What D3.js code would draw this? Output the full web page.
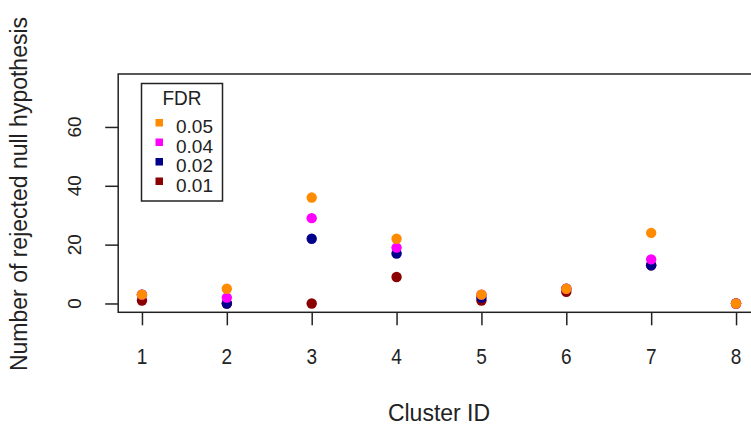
<!DOCTYPE html>
<html>
<head>
<meta charset="utf-8">
<script src="https://cdn.jsdelivr.net/npm/d3@7"></script>
<style>
  body { margin: 0; background: #fff; }
  text { font-family: "Liberation Sans", Arial, sans-serif; fill: #222; }
</style>
</head>
<body>
<script>

// data
var clusters = [1, 2, 3, 4, 5, 6, 7, 8];
var fdr05 = [3, 5, 36, 22, 3, 5, 24, 0];
var fdr04 = [3, 2, 29, 19, 3, 5, 15, 0];
var fdr02 = [3, 0, 22, 17, 2, 5, 13, 0];
var fdr01 = [1, 0, 0, 9, 1, 4, 13, 0];
var fdrLabels = ["0.05", "0.04", "0.02", "0.01"];
var fdrColors = ["#ff8c00", "#ff00ff", "#00008b", "#8b0000"];
var yTicks = [0, 20, 40, 60];

var width = 751, height = 426;

var x = d3.scaleLinear().domain([0.72, 8.28]).range([118.2, 759.8]);
var y = d3.scaleLinear().domain([-3, 78]).range([312.3, 74]);

var svg = d3.select("body").append("svg")
    .attr("width", width)
    .attr("height", height);

// box (right side runs off the canvas like in the original)
svg.append("rect")
    .attr("x", x(0.72))
    .attr("y", y(78))
    .attr("width", x(8.28) - x(0.72))
    .attr("height", y(-3) - y(78))
    .attr("fill", "none")
    .attr("stroke", "#222")
    .attr("stroke-width", 1.5);

// axes
var yAxis = d3.axisLeft(y).tickValues(yTicks).tickSize(13).tickFormat("");
var xAxis = d3.axisBottom(x).tickValues(clusters).tickSize(13).tickFormat("");

var gy = svg.append("g").attr("transform", "translate(" + x(0.72) + ",0)").call(yAxis);
var gx = svg.append("g").attr("transform", "translate(0," + y(-3) + ")").call(xAxis);
gy.select(".domain").remove();
gx.select(".domain").remove();
svg.selectAll(".tick line").attr("stroke", "#222").attr("stroke-width", 1.5);

svg.selectAll("text.ylab")
    .data(yTicks)
    .enter().append("text")
    .attr("class", "ylab")
    .attr("transform", function(d) { return "translate(81," + y(d) + ") rotate(-90)"; })
    .attr("text-anchor", "middle")
    .attr("font-size", 19)
    .text(function(d) { return d; });

// the original looks a bit stretched vertically
svg.selectAll("text.xlab")
    .data(clusters)
    .enter().append("text")
    .attr("class", "xlab")
    .attr("transform", function(d) { return "translate(" + x(d) + ",364) scale(1,1.15)"; })
    .attr("text-anchor", "middle")
    .attr("font-size", 19)
    .text(function(d) { return d; });

svg.append("text")
    .attr("transform", "translate(439,421) scale(1,1.08)")
    .attr("text-anchor", "middle")
    .attr("font-size", 23)
    .text("Cluster ID");

svg.append("text")
    .attr("transform", "translate(27,194) rotate(-90)")
    .attr("text-anchor", "middle")
    .attr("font-size", 23)
    .text("Number of rejected null hypothesis");

// points, lowest FDR first so higher ones sit on top
var series = [fdr01, fdr02, fdr04, fdr05];
var seriesColors = [fdrColors[3], fdrColors[2], fdrColors[1], fdrColors[0]];

series.forEach(function(vals, k) {
  svg.append("g").selectAll("circle")
      .data(vals)
      .enter().append("circle")
      .attr("cx", function(d, i) { return x(clusters[i]); })
      .attr("cy", function(d) { return y(d); })
      .attr("r", 5.2)
      .attr("fill", seriesColors[k]);
});

// legend
var legend = svg.append("g");
legend.append("rect")
    .attr("x", 141.5)
    .attr("y", 83.5)
    .attr("width", 81)
    .attr("height", 117.5)
    .attr("fill", "#fff")
    .attr("stroke", "#222")
    .attr("stroke-width", 1.5);

legend.append("text")
    .attr("transform", "translate(182,105) scale(1,1.1)")
    .attr("text-anchor", "middle")
    .attr("font-size", 19)
    .text("FDR");

var rows = legend.selectAll("g.row")
    .data(fdrLabels)
    .enter().append("g")
    .attr("class", "row")
    .attr("transform", function(d, i) { return "translate(0," + (122.5 + i * 19.5) + ")"; });

rows.append("rect")
    .attr("x", 155.5)
    .attr("y", -3.5)
    .attr("width", 7.5)
    .attr("height", 7.5)
    .attr("fill", function(d, i) { return fdrColors[i]; });

rows.append("text")
    .attr("x", 176)
    .attr("y", 10.5)
    .attr("font-size", 19)
    .text(function(d) { return d; });

</script>
</body>
</html>
